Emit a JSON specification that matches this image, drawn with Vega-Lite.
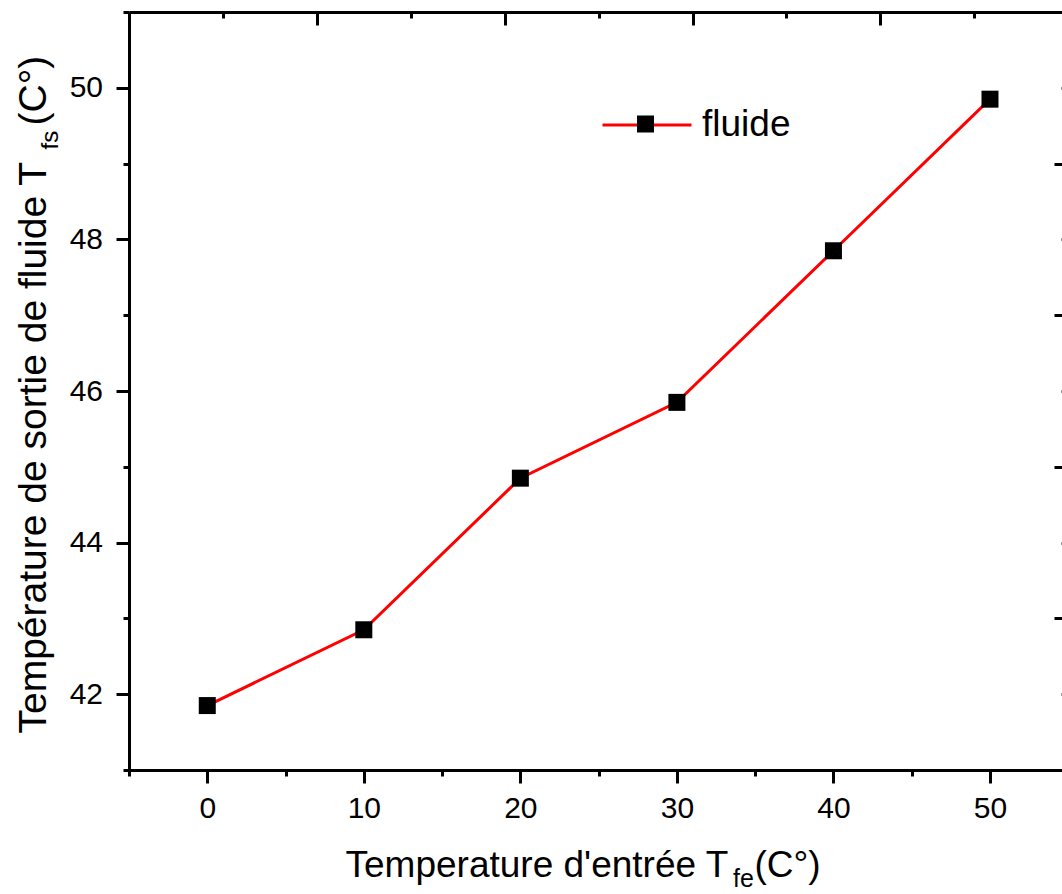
{
  "$schema": "https://vega.github.io/schema/vega-lite/v6.json",
  "width": 933,
  "height": 758,
  "autosize": {"type": "none"},
  "padding": {"left": 129, "top": 12, "right": 0, "bottom": 124},
  "background": "white",
  "config": {
    "view": {"stroke": null},
    "font": "Liberation Sans",
    "axis": {
      "domainColor": "black", "domainWidth": 3, "tickColor": "black", "tickWidth": 3,
      "labelColor": "black", "titleColor": "black", "labelFont": "Liberation Sans",
      "titleFont": "Liberation Sans", "titleFontWeight": "normal", "grid": false,
      "labelFontSize": 30, "labelFlush": false, "labelOverlap": false
    },
    "legend": {"labelFont": "Liberation Sans"}
  },
  "data": {
    "values": [
      {"x": 0, "y": 41.85},
      {"x": 10, "y": 42.85},
      {"x": 20, "y": 44.85},
      {"x": 30, "y": 45.85},
      {"x": 40, "y": 47.85},
      {"x": 50, "y": 49.85}
    ]
  },
  "layer": [
    {
      "mark": {"type": "line", "strokeWidth": 3},
      "encoding": {
        "x": {"field": "x", "type": "quantitative", "scale": {"domain": [-5, 54.6], "nice": false, "zero": false},
          "axis": {"orient": "bottom", "values": [0, 10, 20, 30, 40, 50], "tickSize": 13, "labelPadding": 10,
            "title": "Temperature d'entrée T", "titleFontSize": 37, "titleX": 216, "titleY": 106,
            "titleAlign": "left", "titleBaseline": "alphabetic", "titleAngle": 0}},
        "y": {"field": "y", "type": "quantitative", "scale": {"domain": [41, 51], "nice": false, "zero": false},
          "axis": {"orient": "left", "values": [42, 44, 46, 48, 50], "tickSize": 13, "labelPadding": 13.5,
            "title": "Température de sortie de fluide T", "titleFontSize": 39, "titleX": -84, "titleY": 721,
            "titleAlign": "left", "titleBaseline": "alphabetic", "titleAngle": -90}},
        "color": {"datum": "fluide", "type": "nominal", "scale": {"range": ["#ff0000"]},
          "legend": {"orient": "none", "legendX": 472, "legendY": 67, "symbolType": "stroke", "symbolSize": 7921,
            "symbolStrokeWidth": 3, "labelFontSize": 37, "labelColor": "black", "labelOffset": 9,
            "padding": 0, "title": null}}
      }
    },
    {
      "mark": {"type": "point", "filled": true, "color": "black", "size": 289, "opacity": 1, "strokeWidth": 0},
      "encoding": {
        "x": {"field": "x", "type": "quantitative", "scale": {"domain": [-5, 54.6], "nice": false, "zero": false},
          "axis": {"orient": "bottom", "values": [-5, 5, 15, 25, 35, 45], "tickSize": 6, "labels": false, "domain": false,
            "title": "fe", "titleFontSize": 25, "titleX": 603.5, "titleY": 116,
            "titleAlign": "left", "titleBaseline": "alphabetic", "titleAngle": 0}},
        "y": {"field": "y", "type": "quantitative", "scale": {"domain": [41, 51], "nice": false, "zero": false},
          "axis": {"orient": "left", "values": [41, 43, 45, 47, 49, 51], "tickSize": 6, "labels": false, "domain": false,
            "title": "fs", "titleFontSize": 24, "titleX": -72, "titleY": 137,
            "titleAlign": "left", "titleBaseline": "alphabetic", "titleAngle": -90}},
        "shape": {"datum": "fluide ", "type": "nominal", "scale": {"range": ["square"]},
          "legend": {"orient": "none", "legendX": 508, "legendY": 103.5, "symbolSize": 289,
            "symbolFillColor": "black", "symbolStrokeWidth": 0, "labelOpacity": 0, "labelFontSize": 1,
            "padding": 0, "title": null}}
      }
    },
    {
      "mark": {"type": "point", "opacity": 0},
      "encoding": {
        "x": {"field": "x", "type": "quantitative", "scale": {"domain": [-5, 54.6], "nice": false, "zero": false},
          "axis": {"orient": "bottom", "ticks": false, "labels": false, "domain": false,
            "title": "(C°)", "titleFontSize": 37, "titleX": 625, "titleY": 106,
            "titleAlign": "left", "titleBaseline": "alphabetic", "titleAngle": 0}},
        "y": {"field": "y", "type": "quantitative", "scale": {"domain": [41, 51], "nice": false, "zero": false},
          "axis": {"orient": "left", "ticks": false, "labels": false, "domain": false,
            "title": "(C°)", "titleFontSize": 39, "titleX": -84, "titleY": 113,
            "titleAlign": "left", "titleBaseline": "alphabetic", "titleAngle": -90}}
      }
    },
    {
      "mark": {"type": "point", "opacity": 0},
      "encoding": {
        "x": {"field": "x", "type": "quantitative", "scale": {"domain": [-5, 54.6], "nice": false, "zero": false},
          "axis": {"orient": "top", "values": [7, 19, 31, 43], "tickSize": -13, "labels": false, "title": null}},
        "y": {"field": "y", "type": "quantitative", "scale": {"domain": [41, 51], "nice": false, "zero": false},
          "axis": {"orient": "right", "values": [43, 45, 47, 49], "tickSize": -8, "labels": false, "domain": false, "title": null}}
      }
    },
    {
      "mark": {"type": "point", "opacity": 0},
      "encoding": {
        "x": {"field": "x", "type": "quantitative", "scale": {"domain": [-5, 54.6], "nice": false, "zero": false},
          "axis": {"orient": "top", "values": [1, 13, 25, 37, 49], "tickSize": -6, "labels": false, "domain": false, "title": null}},
        "y": {"field": "y", "type": "quantitative", "scale": {"domain": [41, 51], "nice": false, "zero": false},
          "axis": {"orient": "right", "values": [42, 44, 46, 48, 50], "tickSize": -1.5, "tickColor": "#999999", "labels": false, "domain": false, "title": null}}
      }
    }
  ],
  "resolve": {"axis": {"x": "independent", "y": "independent"}}
}
